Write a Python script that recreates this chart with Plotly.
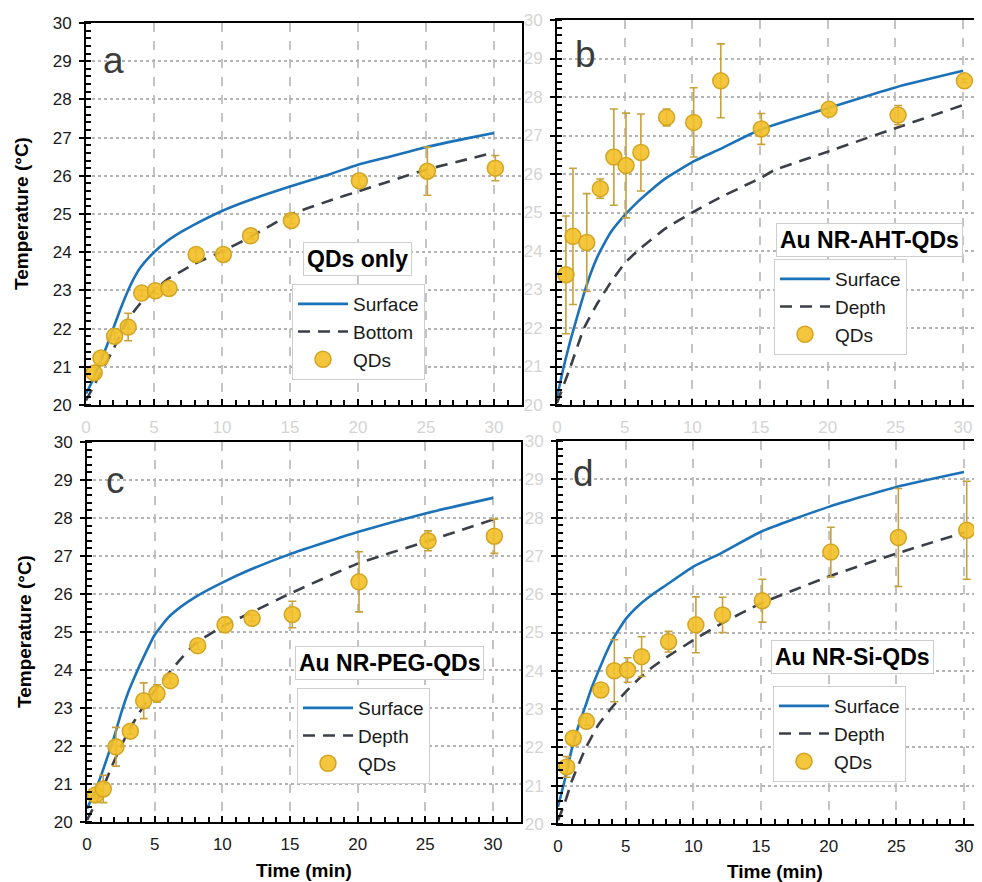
import plotly.graph_objects as go
from plotly.subplots import make_subplots

# ---- panel a : QDs only ----
t_a = [0.6, 1.1, 2.1, 3.1, 4.1, 5.1, 6.1, 8.1, 10.1, 12.1, 15.1, 20.1, 25.1, 30.1]
qd_a = [20.84, 21.23, 21.80, 22.04, 22.93, 22.99, 23.05, 23.94, 23.94, 24.43, 24.83, 25.87, 26.12, 26.20]
err_a = [0.15, 0.15, 0.10, 0.36, 0.08, 0.08, 0.08, 0.15, 0.12, 0.08, 0.08, 0.12, 0.63, 0.33]
ct_a = [0, 0.5, 1, 1.5, 2, 2.5, 3, 3.5, 4, 5, 6, 7, 8, 10, 12, 15, 18, 20, 22, 25, 28, 30]
surf_a = [20.3, 20.65, 21.08, 21.52, 22.0, 22.48, 22.92, 23.3, 23.6, 24.0, 24.3, 24.53, 24.73, 25.08, 25.36,
          25.72, 26.05, 26.29, 26.47, 26.75, 26.98, 27.12]
ct_a2 = [0, 0.5, 1, 2, 3, 4, 5, 6, 7, 8, 10, 12, 15, 18, 20, 22, 25, 28, 30]
bot_a = [20.12, 20.45, 20.8, 21.45, 22.2, 22.66, 22.98, 23.3, 23.5, 23.7, 24.02, 24.38, 24.98, 25.36, 25.59,
         25.82, 26.16, 26.43, 26.61]

# ---- panel b : Au NR-AHT-QDs ----
t_b = [0.66, 1.18, 2.2, 3.2, 4.2, 5.1, 6.2, 8.1, 10.1, 12.1, 15.1, 20.1, 25.2, 30.1]
qd_b = [23.38, 24.38, 24.22, 25.62, 26.44, 26.22, 26.56, 27.47, 27.34, 28.42, 27.17, 27.68, 27.53, 28.42]
err_b = [1.53, 1.77, 1.27, 0.25, 1.25, 1.36, 1.00, 0.22, 0.90, 0.96, 0.40, 0.10, 0.25, 0.05]
ct_b = [0, 0.5, 1, 1.5, 2, 2.5, 3, 3.5, 4, 5, 6, 7, 8, 10, 12, 15, 20, 25, 30]
surf_b = [20.2, 21.0, 21.69, 22.3, 22.9, 23.43, 23.86, 24.2, 24.5, 24.93, 25.29, 25.6, 25.88, 26.31, 26.64,
          27.15, 27.71, 28.25, 28.68]
ct_b2 = [0, 1, 2, 3, 4, 5, 6, 8, 10, 12, 14, 15, 16, 20, 25, 30]
dep_b = [20.05, 21.0, 22.0, 22.65, 23.2, 23.68, 24.02, 24.58, 25.0, 25.38, 25.72, 25.89, 26.09, 26.58, 27.19, 27.79]

# ---- panel c : Au NR-PEG-QDs ----
t_c = [0.62, 1.2, 2.14, 3.2, 4.19, 5.17, 6.16, 8.18, 10.2, 12.2, 15.17, 20.1, 25.2, 30.1]
qd_c = [20.71, 20.87, 21.98, 22.39, 23.19, 23.38, 23.72, 24.64, 25.19, 25.36, 25.46, 26.32, 27.40, 27.52]
err_c = [0.10, 0.36, 0.51, 0.08, 0.47, 0.23, 0.08, 0.10, 0.20, 0.08, 0.35, 0.79, 0.26, 0.45]
ct_c = [0, 0.5, 1, 1.5, 2, 2.5, 3, 3.5, 4, 5, 6, 7, 8, 10, 12, 15, 20, 25, 30]
surf_c = [20.35, 20.74, 21.18, 21.7, 22.23, 22.84, 23.37, 23.8, 24.2, 24.92, 25.38, 25.68, 25.92, 26.3, 26.63,
          27.05, 27.63, 28.12, 28.53]
ct_c2 = [0, 1, 2, 3, 4, 5, 6, 7, 8, 10, 12, 15, 20, 25, 30]
dep_c = [20.05, 20.75, 21.6, 22.35, 22.95, 23.45, 23.9, 24.32, 24.7, 25.14, 25.49, 26.01, 26.8, 27.37, 27.96]

# ---- panel d : Au NR-Si-QDs ----
t_d = [0.64, 1.13, 2.1, 3.17, 4.16, 5.14, 6.18, 8.17, 10.19, 12.16, 15.1, 20.16, 25.15, 30.2]
qd_d = [21.49, 22.24, 22.68, 23.50, 24.00, 24.02, 24.37, 24.76, 25.20, 25.46, 25.83, 27.10, 27.48, 27.67]
err_d = [0.27, 0.15, 0.10, 0.08, 0.81, 0.32, 0.52, 0.27, 0.73, 0.46, 0.56, 0.65, 1.28, 1.28]
ct_d = [0, 0.5, 1, 1.5, 2, 2.5, 3, 3.5, 4, 5, 6, 7, 8, 10, 12, 15, 20, 25, 30]
surf_d = [20.45, 21.15, 21.93, 22.55, 23.05, 23.57, 24.0, 24.42, 24.79, 25.35, 25.72, 26.0, 26.24, 26.72, 27.06,
          27.63, 28.28, 28.8, 29.19]
ct_d2 = [0, 0.5, 1, 2, 3, 4, 5, 6, 7, 8, 10, 12, 15, 20, 25, 30]
dep_d = [20.1, 20.55, 21.1, 21.95, 22.6, 23.05, 23.45, 23.8, 24.1, 24.35, 24.8, 25.22, 25.76, 26.46, 27.06, 27.61]

FONT = "Arial, Liberation Sans, sans-serif"
BLUE = "#1b72b9"
DARK = "#3b3f48"
GOLD = "rgba(242,192,40,0.9)"
GOLD_EDGE = "#d4a521"
ERR = "#c9a13a"
FAINT = "#d4d4d4"

# page body keeps an 8px margin, so the figure is 8px smaller and shifted
OFF = 8
W, H = 982.0 - OFF, 882.0 - OFF


def px(x, y):
    return (x - OFF) / W, 1 - (y - OFF) / H


fig = make_subplots(rows=2, cols=2)

panels = [
    # row, col, legend, t, qd, err, ct_s, surf, ct_d, deep, deep name
    (1, 1, "legend", t_a, qd_a, err_a, ct_a, surf_a, ct_a2, bot_a, "Bottom"),
    (1, 2, "legend2", t_b, qd_b, err_b, ct_b, surf_b, ct_b2, dep_b, "Depth"),
    (2, 1, "legend3", t_c, qd_c, err_c, ct_c, surf_c, ct_c2, dep_c, "Depth"),
    (2, 2, "legend4", t_d, qd_d, err_d, ct_d, surf_d, ct_d2, dep_d, "Depth"),
]

for r, c, lg, t, qd, err, cts, surf, ctd, deep, dname in panels:
    fig.add_trace(go.Scatter(x=cts, y=surf, mode="lines", name="Surface", legend=lg,
                             line=dict(color=BLUE, width=2.6, shape="spline", smoothing=0.5)),
                  row=r, col=c)
    fig.add_trace(go.Scatter(x=ctd, y=deep, mode="lines", name=dname, legend=lg,
                             line=dict(color=DARK, width=2.6, dash="12px,8px", shape="spline", smoothing=0.4)),
                  row=r, col=c)
    fig.add_trace(go.Scatter(x=t, y=qd, mode="markers", name="QDs", legend=lg,
                             marker=dict(size=16, color=GOLD, line=dict(color=GOLD_EDGE, width=1.5)),
                             error_y=dict(type="data", array=err, color=ERR, thickness=1.6, width=4)),
                  row=r, col=c)

# plot-area corners in screen pixels and the x value at the right edge
dom = {
    1: ((86, 522), (23, 405), 32.06),
    2: ((557, 982), (20, 405), 31.4),
    3: ((87, 521), (442, 822), 32.07),
    4: ((558, 982), (441, 824), 31.33),
}
xlab_faint = {1: True, 2: True, 3: False, 4: False}
ylab_faint = {1: False, 2: True, 3: False, 4: True}

for i in range(1, 5):
    (x0, x1), (y0, y1), xmax = dom[i]
    fx0, fy0 = px(x0, y1)
    fx1, fy1 = px(x1, y0)
    sfx = "" if i == 1 else str(i)
    fig.layout["xaxis" + sfx].update(
        domain=[fx0, min(fx1, 1.0)], range=[0, xmax], automargin=False,
        tickvals=[0, 5, 10, 15, 20, 25, 30],
        showline=True, linecolor="black", linewidth=2, mirror=True,
        ticks="inside", ticklen=6, tickwidth=2, tickcolor="black",
        minor=dict(dtick=1, ticks="inside", ticklen=5, tickwidth=1.5, tickcolor="black", showgrid=False),
        showgrid=True, gridcolor="#c4c4c4", gridwidth=1.5, griddash="dash",
        tickfont=dict(family=FONT, size=17, color=FAINT if xlab_faint[i] else "#1a1a1a"),
        ticklabelstandoff=6, zeroline=False,
    )
    fig.layout["yaxis" + sfx].update(
        domain=[fy0, min(fy1, 1.0)], range=[20, 30], dtick=1, automargin=False,
        showline=True, linecolor="black", linewidth=2, mirror=(i in (1, 3)),
        ticks="outside", ticklen=5, tickwidth=2, tickcolor="black",
        minor=dict(dtick=0.2, ticks="inside", ticklen=5, tickwidth=1.5, tickcolor="black", showgrid=False),
        showgrid=True, gridcolor="#b4b4b4", gridwidth=1.5, griddash="dot",
        tickfont=dict(family=FONT, size=17, color=FAINT if ylab_faint[i] else "#1a1a1a"),
        ticklabelstandoff=4, zeroline=False,
    )

leg_common = dict(
    bgcolor="white", bordercolor="#cfcfcf", borderwidth=1,
    font=dict(family=FONT, size=19, color="#1a1a1a"),
    xanchor="left", yanchor="top", itemwidth=50, tracegroupgap=0,
)
legpos = {"legend": (292, 284), "legend2": (774, 259), "legend3": (297, 688), "legend4": (773, 686)}
for name, (lx, ly) in legpos.items():
    fx, fy = px(lx, ly)
    fig.layout[name] = dict(x=fx, y=fy, **leg_common)

annots = []
# legend title boxes
for txt, cx, cy in [("QDs only", 357, 259), ("Au NR-AHT-QDs", 869, 240),
                    ("Au NR-PEG-QDs", 389, 663), ("Au NR-Si-QDs", 852, 657)]:
    fx, fy = px(cx, cy)
    annots.append(dict(text="<b>%s</b>" % txt, x=fx, y=fy, xref="paper", yref="paper",
                       showarrow=False, xanchor="center", yanchor="middle",
                       font=dict(family=FONT, size=23, color="black"),
                       bgcolor="white", bordercolor="#cfcfcf", borderwidth=1, borderpad=3))
# panel letters
for txt, cx, cy in [("a", 113, 60), ("b", 585, 55), ("c", 115, 480), ("d", 583, 474)]:
    fx, fy = px(cx, cy)
    annots.append(dict(text=txt, x=fx, y=fy, xref="paper", yref="paper",
                       showarrow=False, xanchor="center", yanchor="middle",
                       font=dict(family=FONT, size=37, color="#3c3c3c")))
# axis titles
for cx, cy in [(21, 214), (24, 632)]:
    fx, fy = px(cx, cy)
    annots.append(dict(text="<b>Temperature (°C)</b>", x=fx, y=fy, xref="paper", yref="paper",
                       showarrow=False, textangle=-90, xanchor="center", yanchor="middle",
                       font=dict(family=FONT, size=19, color="black")))
for cx, cy in [(304, 870), (775, 871)]:
    fx, fy = px(cx, cy)
    annots.append(dict(text="<b>Time (min)</b>", x=fx, y=fy, xref="paper", yref="paper",
                       showarrow=False, xanchor="center", yanchor="middle",
                       font=dict(family=FONT, size=19, color="black")))

fig.update_layout(
    annotations=annots,
    width=int(W), height=int(H),
    margin=dict(l=0, r=0, t=0, b=0),
    paper_bgcolor="white", plot_bgcolor="white",
    font=dict(family=FONT),
)

fig.write_html("out.html")
